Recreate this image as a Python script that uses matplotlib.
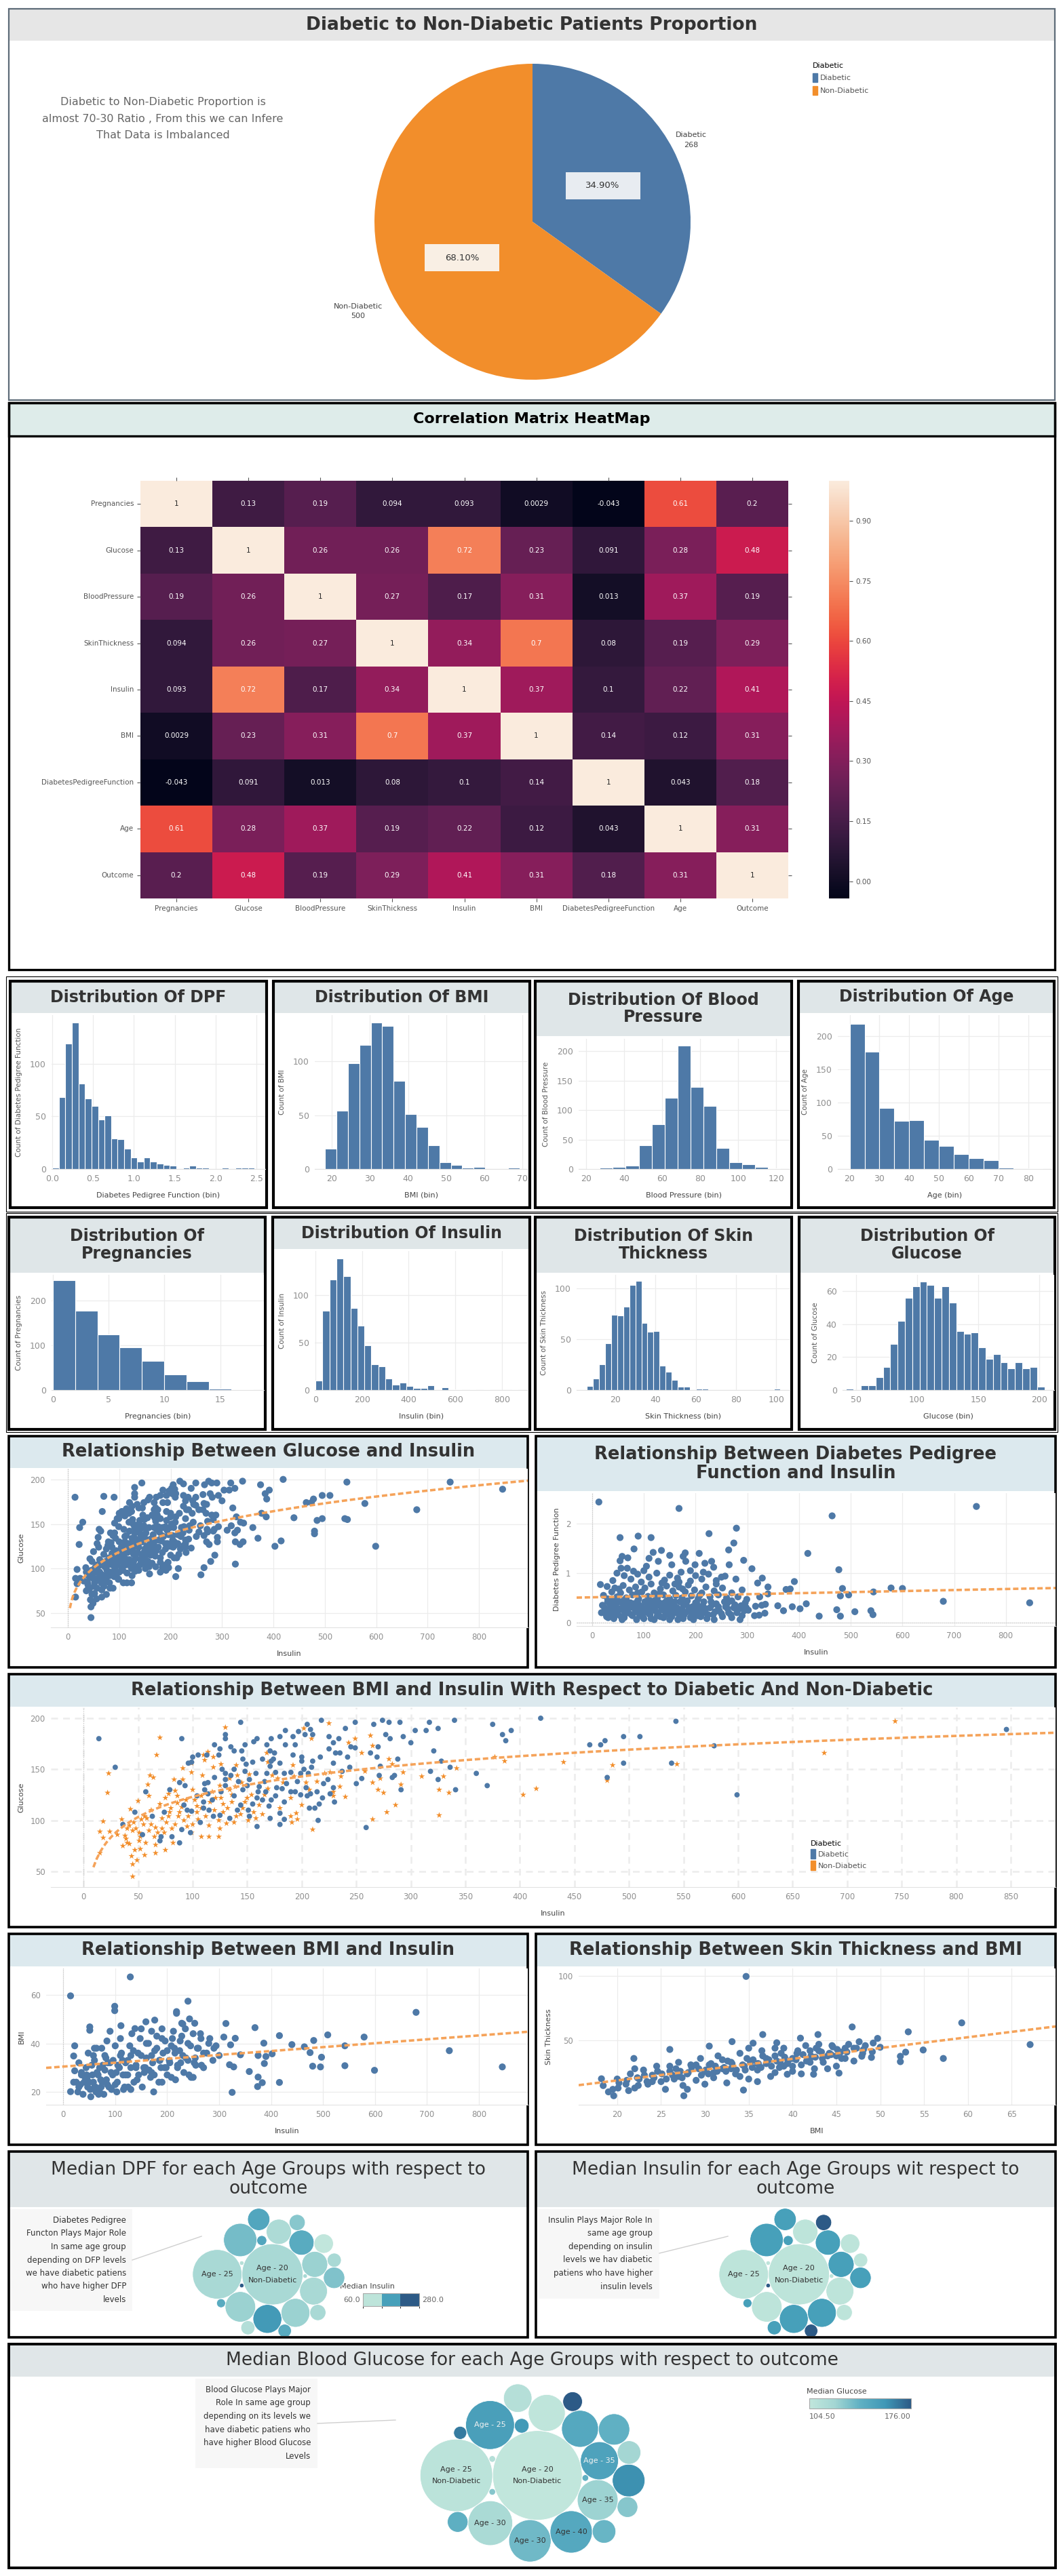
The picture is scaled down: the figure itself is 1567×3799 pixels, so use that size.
import numpy as np
import pandas as pd
import matplotlib
matplotlib.use('Agg')
import matplotlib.pyplot as plt
import seaborn as sns
from matplotlib.patches import Rectangle, Circle, Patch
from matplotlib.colors import LinearSegmentedColormap, ListedColormap, BoundaryNorm, Normalize
from matplotlib.cm import ScalarMappable
from matplotlib.ticker import FormatStrFormatter

# ---------------- data ----------------
outcome_labels = ['Diabetic', 'Non-Diabetic']
outcome_counts = [268, 500]
outcome_pct_text = ['34.90%', '68.10%']
pie_note = ('Diabetic to Non-Diabetic Proportion is\n'
            'almost 70-30 Ratio , From this we can Infere\n'
            'That Data is Imbalanced')

corr_cols = ['Pregnancies', 'Glucose', 'BloodPressure', 'SkinThickness', 'Insulin',
             'BMI', 'DiabetesPedigreeFunction', 'Age', 'Outcome']
corr_vals = [
    [1, 0.13, 0.19, 0.094, 0.093, 0.0029, -0.043, 0.61, 0.2],
    [0.13, 1, 0.26, 0.26, 0.72, 0.23, 0.091, 0.28, 0.48],
    [0.19, 0.26, 1, 0.27, 0.17, 0.31, 0.013, 0.37, 0.19],
    [0.094, 0.26, 0.27, 1, 0.34, 0.7, 0.08, 0.19, 0.29],
    [0.093, 0.72, 0.17, 0.34, 1, 0.37, 0.1, 0.22, 0.41],
    [0.0029, 0.23, 0.31, 0.7, 0.37, 1, 0.14, 0.12, 0.31],
    [-0.043, 0.091, 0.013, 0.08, 0.1, 0.14, 1, 0.043, 0.18],
    [0.61, 0.28, 0.37, 0.19, 0.22, 0.12, 0.043, 1, 0.31],
    [0.2, 0.48, 0.19, 0.29, 0.41, 0.31, 0.18, 0.31, 1],
]

# histogram bins: first edge, bin width, counts per bin
dpf_bin_start, dpf_bin_width = 0.0, 0.08
dpf_counts = [1, 68, 119, 139, 81, 67, 60, 47, 51, 29, 28, 19, 11, 7, 11, 7, 5, 4, 3, 0,
              1, 3, 1, 1, 0, 0, 1, 0, 1, 1, 1]
bmi_bin_start, bmi_bin_width = 18.2, 3.0
bmi_counts = [19, 54, 98, 115, 136, 133, 82, 51, 39, 22, 6, 4, 1, 2, 0, 0, 1]
bp_bin_start, bp_bin_width = 20.4, 6.8
bp_counts = [1, 2, 3, 6, 40, 76, 121, 210, 139, 107, 36, 12, 8, 3, 1]
age_bin_start, age_bin_width = 20, 5
age_counts = [219, 177, 92, 73, 74, 44, 35, 22, 16, 13, 2, 0, 1]
preg_bin_start, preg_bin_width = 0, 2
preg_counts = [246, 178, 125, 95, 66, 35, 19, 3, 1]
ins_bin_start, ins_bin_width = 0, 30
ins_counts = [10, 83, 116, 138, 120, 86, 68, 47, 27, 25, 12, 6, 8, 4, 2, 2, 5, 0, 3, 1,
              1, 0, 1, 0, 1, 0, 0, 0, 1]
skin_bin_start, skin_bin_width = 6, 3
skin_counts = [4, 11, 25, 46, 74, 73, 82, 103, 107, 66, 57, 58, 24, 18, 10, 3, 3, 0, 1, 1,
               0, 0, 0, 0, 0, 0, 0, 0, 0, 0, 0, 1]
glu_bin_start, glu_bin_width = 42, 6
glu_counts = [1, 0, 3, 3, 8, 14, 28, 42, 56, 63, 66, 64, 56, 63, 53, 36, 34, 35, 26, 19,
              22, 17, 13, 17, 13, 14, 2]

# (insulin, glucose) pairs by outcome
ig_diabetic = [
    (14, 180), (29, 152), (90, 180), (144, 196), (130, 184), (130, 180), (120, 174), (125, 170), (124, 164), (135, 172),
    (138, 168), (145, 168), (148, 174), (156, 177), (159, 180), (168, 174), (172, 180), (180, 182), (185, 188), (192, 182),
    (194, 174), (185, 174), (171, 168), (175, 166), (174, 160), (171, 153), (172, 158), (155, 157), (149, 155), (148, 148),
    (127, 150), (130, 146), (135, 144), (142, 138), (130, 140), (130, 134), (111, 136), (114, 137), (111, 130), (114, 126),
    (92, 115), (99, 109), (95, 110), (107, 98), (110, 112), (115, 110), (119, 104), (125, 105), (134, 102), (141, 110),
    (144, 115), (151, 110), (152, 104), (155, 116), (159, 94), (159, 122), (160, 128), (161, 133), (166, 138), (167, 128),
    (170, 114), (172, 120), (171, 102), (180, 107), (180, 96), (184, 101), (184, 118), (182, 131), (177, 132), (176, 147),
    (184, 146), (190, 128), (194, 128), (190, 147), (199, 146), (199, 125), (205, 124), (208, 126), (207, 112), (212, 112),
    (216, 116), (215, 100), (220, 136), (219, 122), (209, 152), (210, 158), (200, 162), (200, 158), (206, 146), (217, 162),
    (225, 170), (225, 182), (229, 156), (229, 176), (231, 166), (235, 166), (234, 180), (240, 190), (242, 162), (244, 152),
    (237, 148), (245, 172), (249, 171), (249, 196), (218, 198), (205, 194), (208, 189), (210, 184), (203, 184), (197, 187),
    (229, 132), (230, 118), (250, 136), (255, 141), (259, 93), (263, 166), (266, 194), (270, 172), (269, 162), (272, 153),
    (271, 144), (274, 198), (277, 184), (281, 180), (280, 196), (290, 196), (293, 182), (288, 160), (283, 142), (285, 144),
    (291, 130), (300, 176), (304, 188), (314, 188), (317, 196), (325, 190), (321, 168), (328, 158), (318, 148), (325, 140),
    (336, 152), (340, 198), (341, 130), (360, 146), (370, 134), (375, 194), (384, 184), (387, 178), (392, 188), (419, 200),
    (88, 78), (90, 91), (98, 88), (81, 84), (70, 80), (71, 84), (63, 104), (74, 108), (79, 130), (57, 128),
    (47, 108), (36, 96), (54, 86), (88, 137), (93, 134), (96, 156), (100, 162), (105, 164), (113, 164), (99, 157),
    (118, 120), (126, 128), (138, 124), (146, 130), (152, 140), (158, 146), (164, 120), (176, 124), (186, 136), (196, 138),
    (204, 132), (214, 128), (224, 140), (226, 126), (138, 150), (146, 160), (164, 160), (180, 156), (192, 164), (120, 142),
    (104, 124), (110, 118), (150, 134), (168, 146), (202, 150),
    (464, 174), (474, 174), (478, 178), (495, 182), (510, 182), (495, 156), (539, 156), (480, 142), (543, 197), (846, 189),
    (599, 125), (578, 173)]
ig_nondiabetic = [
    (18, 99), (15, 89), (18, 83), (15, 68), (22, 127), (23, 146), (24, 89), (35, 101), (31, 86), (43, 111),
    (45, 90), (45, 57), (45, 45), (44, 65), (47, 71), (49, 61), (36, 75), (39, 82), (42, 77), (51, 80),
    (51, 88), (55, 96), (56, 104), (50, 119), (60, 124), (61, 144), (64, 142), (59, 135), (67, 164), (70, 181),
    (66, 93), (65, 84), (75, 71), (66, 68), (72, 102), (75, 122), (78, 126), (83, 140), (84, 129), (91, 140),
    (91, 151), (99, 147), (99, 156), (79, 108), (87, 104), (95, 94), (99, 88), (81, 92), (60, 90), (53, 101),
    (40, 92), (90, 113), (86, 117), (102, 120), (105, 101), (108, 84), (115, 84), (124, 84), (125, 92), (115, 95),
    (104, 114), (108, 124), (109, 144), (111, 159), (110, 164), (114, 167), (119, 162), (119, 152), (126, 155), (130, 191),
    (140, 154), (141, 144), (134, 141), (125, 134), (121, 122), (128, 116), (136, 125), (139, 133), (145, 137), (152, 145),
    (154, 125), (148, 118), (144, 106), (138, 98), (131, 97), (151, 100), (158, 102), (164, 106), (161, 115), (166, 125),
    (169, 131), (168, 166), (169, 157), (173, 144), (178, 141), (180, 112), (183, 137), (192, 154), (193, 143), (190, 122),
    (190, 104), (191, 98), (195, 107), (196, 101), (200, 115), (202, 190), (209, 180), (204, 137), (207, 130), (210, 91),
    (214, 138), (221, 146), (226, 147), (225, 195), (229, 124), (229, 128), (235, 133), (240, 123), (236, 143), (243, 176),
    (249, 180), (255, 166), (258, 148), (263, 183), (265, 173), (265, 137), (265, 101), (270, 130), (275, 127), (278, 108),
    (286, 115), (272, 141), (280, 160), (283, 155), (291, 135), (293, 147), (310, 143), (326, 130), (326, 105), (330, 143),
    (335, 127), (342, 151), (377, 162), (386, 158), (403, 125), (415, 131),
    (38, 85), (42, 95), (48, 92), (52, 84), (57, 78), (62, 96), (68, 88), (72, 92), (76, 98), (80, 112),
    (84, 96), (88, 108), (92, 100), (96, 104), (100, 96), (104, 108), (108, 112), (112, 104), (116, 118), (120, 110),
    (124, 100), (128, 108), (132, 112), (136, 118), (140, 104), (146, 112), (150, 122), (156, 108), (62, 110), (70, 116),
    (78, 104), (86, 124), (94, 120), (46, 98), (58, 102), (66, 76), (74, 88), (82, 78), (100, 130), (118, 128),
    (126, 122), (134, 130), (52, 72), (40, 78), (56, 66),
    (544, 155), (480, 139), (485, 154), (440, 157), (744, 197), (679, 166)]

# (insulin, diabetes pedigree function)
insulin_dpf = [
    (13, 2.44), (168, 2.31), (464, 2.16), (743, 2.35), (279, 1.91), (226, 1.80), (54, 1.72), (89, 1.75), (114, 1.72), (274, 1.61),
    (264, 1.47), (81, 1.49), (417, 1.40), (118, 1.42), (134, 1.46), (150, 1.36), (176, 1.34), (180, 1.41), (207, 1.40), (293, 1.26),
    (54, 1.25), (58, 1.34), (69, 1.31), (265, 1.17), (231, 1.24), (218, 1.20), (199, 1.17), (181, 1.24), (154, 1.17), (128, 1.24),
    (110, 1.30), (309, 1.09), (477, 1.07), (235, 1.12), (56, 1.10), (68, 1.10), (105, 1.14), (329, 0.90), (320, 0.80), (391, 0.83),
    (340, 0.72), (278, 0.88), (257, 0.94), (16, 0.77), (29, 0.73), (375, 0.67), (383, 0.68), (484, 0.69), (578, 0.70), (600, 0.69),
    (480, 0.54), (496, 0.56), (544, 0.62), (679, 0.43), (846, 0.40), (324, 0.52), (340, 0.58), (299, 0.47), (359, 0.34), (370, 0.24),
    (387, 0.32), (402, 0.28), (414, 0.38), (316, 0.33), (328, 0.35), (335, 0.37), (302, 0.25), (314, 0.14), (323, 0.15), (334, 0.19),
    (439, 0.13), (473, 0.26), (480, 0.13), (508, 0.22), (539, 0.24), (543, 0.16), (31, 0.10),
    (40, 0.85), (62, 0.95), (75, 0.88), (88, 0.98), (95, 0.82), (110, 0.92), (125, 1.0), (140, 0.86), (150, 0.96), (165, 0.9),
    (172, 1.02), (190, 0.84), (200, 0.95), (212, 0.88), (225, 0.98), (240, 0.85), (250, 0.92), (168, 0.82), (135, 0.8), (100, 1.05),
    (80, 1.04), (190, 1.05), (215, 1.02), (48, 1.0),
    (22, 0.55), (30, 0.48), (38, 0.62), (44, 0.7), (48, 0.52), (55, 0.6), (60, 0.75), (66, 0.5), (72, 0.66), (78, 0.56),
    (84, 0.72), (90, 0.48), (96, 0.62), (102, 0.7), (108, 0.53), (114, 0.78), (120, 0.6), (126, 0.5), (132, 0.68), (138, 0.56),
    (144, 0.74), (150, 0.48), (156, 0.64), (162, 0.55), (168, 0.72), (174, 0.5), (180, 0.62), (186, 0.76), (192, 0.54), (198, 0.66),
    (205, 0.48), (212, 0.6), (220, 0.72), (228, 0.52), (236, 0.64), (244, 0.56), (252, 0.7), (260, 0.5), (270, 0.6), (282, 0.52),
    (290, 0.66), (62, 0.46), (110, 0.46), (160, 0.78), (240, 0.78), (52, 0.68), (88, 0.6), (130, 0.58), (175, 0.68), (208, 0.55),
    (18, 0.2), (24, 0.3), (28, 0.12), (34, 0.38), (38, 0.22), (42, 0.08), (46, 0.3), (50, 0.16), (54, 0.42), (58, 0.26),
    (62, 0.1), (66, 0.34), (70, 0.2), (74, 0.4), (78, 0.14), (82, 0.28), (86, 0.06), (90, 0.36), (94, 0.22), (98, 0.12),
    (102, 0.42), (106, 0.3), (110, 0.18), (114, 0.08), (118, 0.36), (122, 0.24), (126, 0.14), (130, 0.4), (134, 0.3), (138, 0.1),
    (142, 0.2), (146, 0.38), (150, 0.26), (154, 0.12), (158, 0.34), (162, 0.2), (166, 0.06), (170, 0.42), (174, 0.28), (178, 0.16),
    (182, 0.36), (186, 0.24), (190, 0.1), (194, 0.32), (198, 0.18), (202, 0.4), (206, 0.26), (210, 0.12), (214, 0.34), (218, 0.2),
    (222, 0.08), (228, 0.3), (234, 0.16), (240, 0.38), (246, 0.24), (252, 0.12), (258, 0.32), (264, 0.2), (270, 0.1), (276, 0.36),
    (282, 0.26), (290, 0.14), (296, 0.4), (40, 0.44), (64, 0.18), (92, 0.3), (120, 0.06), (144, 0.44), (176, 0.08), (200, 0.3),
    (230, 0.42), (262, 0.4), (286, 0.06),
    (20, 0.35), (26, 0.18), (32, 0.26), (36, 0.14), (40, 0.32), (44, 0.2), (48, 0.4), (52, 0.28), (56, 0.12), (60, 0.36),
    (64, 0.24), (68, 0.42), (72, 0.3), (76, 0.16), (80, 0.38), (84, 0.22), (88, 0.44), (92, 0.14), (96, 0.32), (100, 0.2),
    (104, 0.26), (108, 0.38), (112, 0.16), (116, 0.28), (120, 0.44), (124, 0.34), (128, 0.2), (132, 0.12), (136, 0.26), (140, 0.4),
    (144, 0.3), (148, 0.16), (152, 0.36), (156, 0.22), (160, 0.42), (164, 0.3), (168, 0.16), (172, 0.24), (176, 0.38), (180, 0.2),
    (184, 0.44), (188, 0.3), (192, 0.16), (196, 0.26), (200, 0.4), (204, 0.14), (208, 0.32), (212, 0.22), (216, 0.42), (220, 0.28),
    (224, 0.16), (232, 0.36), (238, 0.22), (244, 0.32), (250, 0.18), (256, 0.42), (262, 0.28), (268, 0.16), (274, 0.3), (280, 0.2),
    (288, 0.34), (294, 0.24), (30, 0.42), (58, 0.06), (100, 0.08), (150, 0.06), (196, 0.06), (236, 0.06), (270, 0.44), (298, 0.3)]

# (insulin, BMI)
insulin_bmi = [
    (129, 67.4), (14, 59.6), (240, 57.4), (99, 55.3), (99, 53.5), (218, 53.1), (218, 52.4), (679, 52.8), (159, 48.9), (176, 49.6),
    (243, 50.1), (228, 48.3), (253, 48.3), (313, 48.2), (369, 46.5), (51, 46.8), (51, 45.4), (111, 47.3), (138, 46.1), (416, 43.2),
    (509, 43.5), (579, 42.6), (309, 42.6), (331, 42.1), (482, 41.2), (386, 40.1), (440, 39.5), (464, 38.6), (542, 39.0), (22, 39.0),
    (322, 39.4), (341, 35.3), (402, 35.7), (475, 36.2), (497, 34.3), (743, 37.0), (390, 34.6), (375, 35.0), (387, 31.7), (320, 31.2),
    (328, 30.3), (480, 30.6), (495, 30.3), (542, 30.8), (599, 28.9), (845, 30.3), (358, 28.4), (375, 26.1), (374, 22.2), (383, 23.8),
    (416, 23.9), (325, 19.8), (14, 20.1), (22, 28.7), (20, 34.8),
    (40, 24), (44, 30), (48, 36), (52, 21), (56, 27), (60, 33), (64, 38), (68, 19), (72, 25), (76, 31),
    (80, 35), (84, 41), (88, 22), (92, 28), (96, 33), (100, 39), (104, 24), (108, 30), (112, 36), (116, 21),
    (120, 27), (124, 33), (128, 39), (132, 44), (136, 24), (140, 30), (144, 36), (148, 42), (152, 22), (156, 28),
    (160, 34), (164, 40), (168, 26), (172, 32), (176, 37), (180, 43), (184, 24), (188, 30), (192, 36), (196, 41),
    (200, 27), (204, 33), (208, 39), (212, 45), (216, 25), (220, 31), (224, 37), (228, 43), (232, 28), (236, 34),
    (240, 40), (246, 26), (252, 32), (258, 38), (264, 44), (270, 30), (276, 36), (282, 42), (288, 33), (294, 39),
    (300, 35), (58, 35), (86, 32), (114, 33), (142, 25), (170, 28), (198, 30), (226, 32), (254, 34), (46, 26),
    (74, 38), (102, 28), (130, 35), (158, 30), (186, 33), (214, 38), (242, 27), (266, 31), (30, 32), (35, 27),
    (90, 45), (150, 46), (190, 46), (62, 22), (118, 22), (174, 20), (124, 27), (82, 34), (208, 26),
    (45, 27), (50, 24), (55, 31), (60, 22), (65, 28), (70, 30), (75, 24), (80, 29), (85, 23), (90, 32),
    (95, 27), (100, 23), (105, 31), (110, 35), (115, 27), (120, 32), (125, 22), (130, 30), (135, 37), (140, 31),
    (145, 27), (150, 35), (155, 30), (160, 40), (165, 29), (170, 35), (175, 27), (180, 38), (185, 33), (190, 42),
    (195, 30), (200, 37), (205, 32), (210, 42), (215, 36), (220, 30), (225, 41), (230, 35), (235, 46), (240, 33),
    (245, 39), (250, 44), (255, 31), (260, 38), (265, 42), (270, 36), (280, 40), (290, 38), (30, 22), (35, 28),
    (25, 24), (60, 38), (110, 42), (170, 45), (230, 48), (70, 20), (130, 21), (190, 24), (250, 26),
    (20, 24), (28, 20), (33, 23), (38, 19), (42, 26), (47, 22), (53, 18), (58, 24), (63, 20), (67, 27),
    (73, 22), (78, 19), (83, 25), (93, 21), (103, 20)]

# (BMI, skin thickness)
bmi_skin = [
    (34.7, 99.8), (59.3, 63.7), (46.8, 60.5), (53.2, 56.7), (49.7, 51.6), (42.9, 54.6), (36.6, 54.6), (67.1, 46.8), (54.9, 42.6), (52.9, 40.9),
    (57.2, 36.0), (52.3, 37.7), (52.3, 33.5), (50.0, 44.7), (49.1, 41.2), (47.9, 37.7), (49.0, 36.8), (45.3, 24.6), (42.4, 23.7), (39.4, 23.7),
    (34.4, 11.4), (27.6, 7.0), (19.6, 7.0), (18.2, 20.2), (18.4, 14.9), (21.9, 36.0), (26.0, 43.0), (30.5, 45.6), (33.1, 49.1), (35.5, 47.9),
    (38.2, 48.2), (40.9, 51.8),
    (19.5, 12), (20, 20), (21, 16), (21.5, 24), (22, 13), (22.5, 20), (23, 27), (23.5, 16), (24, 23), (24.5, 30),
    (25, 18), (25.5, 12), (26, 26), (26.5, 20), (27, 33), (27.5, 15), (28, 24), (28.5, 29), (29, 19), (29.5, 36),
    (30, 26), (30.5, 31), (31, 21), (31.5, 38), (32, 28), (32.5, 17), (33, 33), (33.5, 24), (34, 40), (34.5, 30),
    (35, 20), (35.5, 35), (36, 27), (36.5, 42), (37, 32), (37.5, 22), (38, 38), (38.5, 29), (39, 44), (39.5, 34),
    (40, 26), (40.5, 40), (41, 31), (41.5, 46), (42, 36), (42.5, 28), (43, 42), (43.5, 33), (44, 38), (44.5, 46),
    (45, 30), (45.5, 41), (46, 36), (47, 44), (28, 12), (30, 16), (32, 35), (34, 22), (36, 18), (38, 25),
    (40, 36), (42, 42), (44, 28), (26, 30), (24, 18), (22, 28), (33, 28), (35, 44), (37, 36), (39, 30),
    (41, 24), (43, 47), (31, 25), (29, 31), (27, 22), (36, 32), (38, 44), (40, 30), (42, 33), (45, 38),
    (47, 34), (46, 44), (48, 40),
    (20.2, 17), (21.1, 19), (22.3, 21), (23.1, 23), (24.2, 21), (25.1, 24), (26.3, 23), (27.2, 26), (28.1, 25), (29.3, 28),
    (30.1, 27), (31.2, 30), (32.2, 29), (33.1, 32), (34.3, 31), (35.2, 33), (36.1, 32), (37.3, 35), (38.2, 34), (39.1, 37),
    (40.3, 36), (41.2, 39), (42.1, 38), (43.3, 41), (44.2, 40), (45.1, 43), (46.2, 41), (47.3, 44), (48.1, 43), (24.6, 26),
    (26.7, 28), (28.4, 31), (30.7, 32), (32.6, 34), (34.8, 36), (36.6, 38), (38.7, 40), (40.6, 42), (42.7, 44), (44.6, 45),
    (23.4, 18), (25.6, 20), (27.4, 21), (29.6, 23), (31.4, 26), (33.6, 27), (35.4, 29), (37.6, 30), (39.4, 32), (41.6, 34),
    (43.4, 36), (45.6, 36), (30.4, 24), (32.4, 26), (34.6, 27), (36.4, 29), (38.6, 33), (40.4, 35), (42.6, 37), (44.4, 39),
    (19.0, 10), (20.1, 13), (21.3, 11), (22.4, 15), (46.4, 47), (47.6, 49), (48.3, 46), (49.2, 48)]

# packed bubbles: one bubble per age group and outcome
bubble_age = [20, 25, 25, 30, 30, 40, 35, 35, 20, 40, 50, 45, 45, 55, 60, 50, 65, 55, 60, 65, 70, 80, 70]
bubble_outcome = ['Non-Diabetic', 'Non-Diabetic', 'Diabetic', 'Non-Diabetic', 'Diabetic', 'Diabetic',
                  'Non-Diabetic', 'Diabetic', 'Diabetic', 'Non-Diabetic', 'Diabetic', 'Diabetic',
                  'Non-Diabetic', 'Non-Diabetic', 'Non-Diabetic', 'Non-Diabetic', 'Non-Diabetic',
                  'Diabetic', 'Diabetic', 'Diabetic', 'Non-Diabetic', 'Non-Diabetic', 'Diabetic']
bubble_count = [189, 124, 56, 47, 42, 42, 39, 34, 32, 32, 25, 23, 19, 13, 13, 10, 10, 9, 5, 4, 1, 1, 1]
median_glucose = [104.5, 108, 152, 118, 136, 146, 124, 150, 146, 106, 160, 140, 112, 122, 138, 130, 141,
                  176, 156, 166, 140, 112, 130]
median_dpf = [0.35, 0.35, 0.46, 0.39, 0.61, 0.39, 0.35, 0.39, 0.525, 0.335, 0.55, 0.44, 0.25, 0.35, 0.425,
              0.31, 0.35, 0.525, 0.55, 0.525, 0.35, 0.30, 0.75]
median_insulin = [100, 95, 170, 110, 160, 175, 120, 180, 165, 105, 190, 170, 115, 100, 230, 150, 120,
                  240, 185, 175, 90, 60, 280]

dpf_note = ('Diabetes Pedigree\nFuncton Plays Major Role\nIn same age group\ndepending on DFP levels\n'
            'we have diabetic patiens\nwho have higher DFP\nlevels')
ins_note = ('Insulin Plays Major Role In\nsame age group\ndepending on insulin\nlevels we hav diabetic\n'
            'patiens who have higher\ninsulin levels')
glu_note = ('Blood Glucose Plays Major\nRole In same age group\ndepending on its levels we\n'
            'have diabetic patiens who\nhave higher Blood Glucose\nLevels')

# ---------------- layout helpers ----------------
W, H = 1567, 3799
BLUE, ORANGE, TREND = '#4e79a7', '#f28e2b', '#f5a35a'
TXT = '#333333'

fig = plt.figure(figsize=(W / 100, H / 100), dpi=100)
bg = fig.add_axes([0, 0, 1, 1])
bg.set_xlim(0, W)
bg.set_ylim(H, 0)
bg.axis('off')


def px_axes(x0, y0, x1, y1):
    return fig.add_axes([x0 / W, 1 - y1 / H, (x1 - x0) / W, (y1 - y0) / H])


def panel(x0, y0, x1, y1, band_bottom, band_color, title, fs, weight='bold',
          edge='black', lw=2.2, tcolor=TXT):
    bg.add_patch(Rectangle((x0, y0), x1 - x0, band_bottom - y0, fc=band_color, ec='none'))
    bg.add_patch(Rectangle((x0, y0), x1 - x0, y1 - y0, fill=False, ec=edge, lw=lw))
    bg.text((x0 + x1) / 2, (y0 + band_bottom) / 2, title, ha='center', va='center',
            fontsize=fs, weight=weight, color=tcolor, linespacing=1.1)


def tab_style(ax, xlim, ylim, xticks, yticks, xlabel, ylabel, grid_ls='-', grid_lw=0.9):
    ax.set_xlim(xlim)
    ax.set_ylim(ylim)
    ax.set_xticks(xticks)
    ax.set_yticks(yticks)
    ax.grid(True, color='#ececec', lw=grid_lw, ls=grid_ls)
    ax.set_axisbelow(True)
    for s in ax.spines.values():
        s.set_visible(False)
    ax.spines['bottom'].set_visible(True)
    ax.spines['bottom'].set_color('#e2e2e2')
    ax.tick_params(length=0, labelsize=8.5, colors='#8f8f8f', pad=6)
    ax.set_xlabel(xlabel, fontsize=8, color='#444444', labelpad=9)
    ax.set_ylabel(ylabel, fontsize=8, color='#444444', labelpad=6)


# ---------------- pie ----------------
panel(13, 13, 1555, 590, 60, '#e6e6e6', 'Diabetic to Non-Diabetic Patients Proportion', 19,
      edge='#5d6b78', lw=1.6)
bg.text(240, 175, pie_note, ha='center', va='center', fontsize=11.5, color='#666666', linespacing=1.75)

pax = px_axes(552, 94, 1018, 560)
wedges, _ = pax.pie(outcome_counts, colors=[BLUE, ORANGE], startangle=90, counterclock=False,
                    wedgeprops=dict(linewidth=0))
pax.set_xlim(-1, 1)
pax.set_ylim(-1, 1)
pax.set_aspect('equal')
for w, name, n, pct, box_c, dist in zip(wedges, outcome_labels, outcome_counts, outcome_pct_text,
                                         ['#e8ecf1', '#f9efe4'], [1.13, 1.24]):
    ang = np.deg2rad((w.theta1 + w.theta2) / 2)
    cx, cy = 0.5 * np.cos(ang), 0.5 * np.sin(ang)
    pax.add_patch(Rectangle((cx - 0.236, cy - 0.085), 0.472, 0.17, fc=box_c, ec='none'))
    pax.text(cx, cy, pct, ha='center', va='center', fontsize=9.5, color=TXT)
    pax.text(dist * np.cos(ang), dist * np.sin(ang), f'{name}\n{n}', ha='center', va='center',
             fontsize=8, color='#444444', linespacing=1.6)
pax.legend(handles=[Patch(color=BLUE, label=outcome_labels[0]), Patch(color=ORANGE, label=outcome_labels[1])],
           title='Diabetic', loc='upper left', bbox_to_anchor=(1188 / W, 1 - 82 / H),
           bbox_transform=fig.transFigure, frameon=False, fontsize=8, title_fontsize=8,
           handlelength=0.6, handleheight=1.5, handletextpad=0.4, labelspacing=0.5,
           alignment='left', labelcolor='#555555')

# ---------------- heatmap ----------------
panel(13, 594, 1555, 1430, 643, '#deecea', 'Correlation Matrix HeatMap', 16, tcolor='black', lw=2.4)
bg.add_patch(Rectangle((13, 594), 1542, 49, fill=False, ec='black', lw=2.4))
hm_ax = px_axes(207, 709, 1162, 1325)
cb_ax = px_axes(1222, 709, 1252, 1325)
corr = pd.DataFrame(corr_vals, index=corr_cols, columns=corr_cols)
sns.heatmap(corr, annot=True, ax=hm_ax, cbar_ax=cb_ax, annot_kws={'size': 7.5})
hm_ax.tick_params(labelsize=7.5, colors='#555555', top=True, right=True)
plt.setp(hm_ax.get_xticklabels(), rotation=0)
plt.setp(hm_ax.get_yticklabels(), rotation=0)
cb_ticks = np.arange(0, 0.91, 0.15)
cb_ax.set_yticks(cb_ticks)
cb_ax.set_yticklabels([f'{t:.2f}' for t in cb_ticks])
cb_ax.tick_params(labelsize=7.5, colors='#555555')

# ---------------- distributions ----------------
bg.add_patch(Rectangle((9, 1440), 1550, 347, fill=False, ec='black', lw=0.8))
bg.add_patch(Rectangle((9, 1789), 1550, 323, fill=False, ec='black', lw=0.8))
HIST_BAND = '#dfe6e8'


def hist_panel(box, band_bottom, title, rect, start, width, counts, xlim, ylim, xticks, yticks,
               xlabel, ylabel, xfmt=None):
    panel(*box, band_bottom, HIST_BAND, title, 17, lw=3)
    ax = px_axes(*rect)
    edges = start + width * np.arange(len(counts))
    ax.bar(edges, counts, width=width, align='edge', color=BLUE, edgecolor='white', linewidth=0.8)
    tab_style(ax, xlim, ylim, xticks, yticks, xlabel, ylabel)
    ax.tick_params(labelsize=9)
    ax.set_ylabel(ylabel, fontsize=7.5, color='#555555', labelpad=8)
    if xfmt:
        ax.xaxis.set_major_formatter(FormatStrFormatter(xfmt))
    return ax


hist_panel((15, 1447, 393, 1781), 1494, 'Distribution Of DPF', (76, 1497, 391, 1724),
           dpf_bin_start, dpf_bin_width, dpf_counts, (-0.01, 2.61), (0, 146),
           np.arange(0, 2.51, 0.5), [0, 50, 100], 'Diabetes Pedigree Function (bin)',
           'Count of Diabetes Pedigree Function', '%.1f')
hist_panel((403, 1447, 781, 1781), 1494, 'Distribution Of BMI', (464, 1497, 778, 1724),
           bmi_bin_start, bmi_bin_width, bmi_counts, (15.5, 71.4), (0, 143),
           np.arange(20, 71, 10), [0, 50, 100], 'BMI (bin)', 'Count of BMI')
hist_panel((789, 1447, 1167, 1781), 1528, 'Distribution Of Blood\nPressure', (853, 1532, 1164, 1724),
           bp_bin_start, bp_bin_width, bp_counts, (16, 127), (0, 221),
           np.arange(20, 121, 20), [0, 50, 100, 150, 200], 'Blood Pressure (bin)', 'Count of Blood Pressure')
hist_panel((1177, 1447, 1554, 1781), 1494, 'Distribution Of Age', (1235, 1497, 1551, 1724),
           age_bin_start, age_bin_width, age_counts, (16, 88), (0, 232),
           np.arange(20, 81, 10), [0, 50, 100, 150, 200], 'Age (bin)', 'Count of Age')
hist_panel((13, 1795, 391, 2108), 1877, 'Distribution Of\nPregnancies', (76, 1880, 389, 2050),
           preg_bin_start, preg_bin_width, preg_counts, (-0.1, 18.9), (0, 258),
           [0, 5, 10, 15], [0, 100, 200], 'Pregnancies (bin)', 'Count of Pregnancies')
hist_panel((402, 1795, 781, 2108), 1842, 'Distribution Of Insulin', (464, 1845, 778, 2050),
           ins_bin_start, ins_bin_width, ins_counts, (-3, 911), (0, 146),
           np.arange(0, 801, 200), [0, 50, 100], 'Insulin (bin)', 'Count of Insulin')
hist_panel((789, 1795, 1167, 2108), 1877, 'Distribution Of Skin\nThickness', (850, 1880, 1164, 2050),
           skin_bin_start, skin_bin_width, skin_counts, (0.8, 106.6), (0, 113),
           np.arange(20, 101, 20), [0, 50, 100], 'Skin Thickness (bin)', 'Count of Skin Thickness')
hist_panel((1178, 1795, 1555, 2108), 1877, 'Distribution Of\nGlucose', (1242, 1880, 1554, 2050),
           glu_bin_start, glu_bin_width, glu_counts, (39, 212), (0, 70),
           np.arange(50, 201, 50), [0, 20, 40, 60], 'Glucose (bin)', 'Count of Glucose')

# ---------------- relationships ----------------
REL_BAND = '#dce9ee'
dia = np.array(ig_diabetic, dtype=float)
non = np.array(ig_nondiabetic, dtype=float)
ig_all = np.vstack([dia, non])

# glucose vs insulin, power trend
panel(13, 2118, 778, 2459, 2165, REL_BAND, 'Relationship Between Glucose and Insulin', 18.5, lw=2.6)
ax1 = px_axes(75, 2166, 778, 2400)
ax1.scatter(ig_all[:, 0], ig_all[:, 1], s=54, color=BLUE, edgecolor='none', zorder=3)
p_b, p_a = np.polyfit(np.log(ig_all[:, 0]), np.log(ig_all[:, 1]), 1)
xs = np.linspace(4, 895, 300)
ax1.plot(xs, np.exp(p_a) * xs ** p_b, color=TREND, lw=2.6, ls=(0, (2.2, 1.1)), zorder=4)
ax1.axvline(0, color='#bbbbbb', lw=0.8, ls=':')
tab_style(ax1, (-33, 895), (34, 212), np.arange(0, 801, 100), [50, 100, 150, 200], 'Insulin', 'Glucose')

# DPF vs insulin, linear trend
ins_dpf = np.array(insulin_dpf, dtype=float)
panel(790, 2118, 1556, 2459, 2199, REL_BAND, 'Relationship Between Diabetes Pedigree\nFunction and Insulin',
      18.5, lw=2.6)
ax2 = px_axes(850, 2202, 1556, 2398)
ax2.scatter(ins_dpf[:, 0], ins_dpf[:, 1], s=54, color=BLUE, edgecolor='none', zorder=3)
k2, c2 = np.polyfit(ins_dpf[:, 0], ins_dpf[:, 1], 1)
xs = np.linspace(-30, 896, 50)
ax2.plot(xs, k2 * xs + c2, color=TREND, lw=2.6, ls=(0, (2.2, 1.1)), zorder=4)
ax2.axvline(0, color='#bbbbbb', lw=0.8, ls=':')
ax2.axhline(0, color='#bbbbbb', lw=0.8, ls=':')
tab_style(ax2, (-30, 896), (-0.07, 2.62), np.arange(0, 801, 100), [0, 1, 2], 'Insulin',
          'Diabetes Pedigree Function')

# glucose vs insulin by outcome, log trend
panel(13, 2469, 1556, 2842, 2517, REL_BAND,
      'Relationship Between BMI and Insulin With Respect to Diabetic And Non-Diabetic', 18.5, lw=2.6)
ax3 = px_axes(75, 2518, 1556, 2783)
ax3.scatter(non[:, 0], non[:, 1], s=46, marker='*', color=ORANGE, edgecolor='none', zorder=3)
ax3.scatter(dia[:, 0], dia[:, 1], s=32, color=BLUE, edgecolor='none', zorder=3)
l_a, l_b = np.polyfit(np.log(ig_all[:, 0]), ig_all[:, 1], 1)
xs = np.linspace(9, 891, 300)
ax3.plot(xs, l_a * np.log(xs) + l_b, color=TREND, lw=2.6, ls=(0, (2.2, 1.1)), zorder=4)
ax3.axvline(0, color='#bbbbbb', lw=0.8, ls=':')
tab_style(ax3, (-30, 891), (34.7, 210.6), np.arange(0, 851, 50), [50, 100, 150, 200], 'Insulin', 'Glucose',
          grid_ls=(0, (4, 3)), grid_lw=1.8)
ax3.legend(handles=[Patch(color=BLUE, label='Diabetic'), Patch(color=ORANGE, label='Non-Diabetic')],
           title='Diabetic', loc='upper left', bbox_to_anchor=(1185 / W, 1 - 2704 / H),
           bbox_transform=fig.transFigure, frameon=False, fontsize=8, title_fontsize=8,
           handlelength=0.6, handleheight=1.5, handletextpad=0.4, labelspacing=0.3,
           alignment='left', labelcolor='#555555')

# BMI vs insulin
ib = np.array(insulin_bmi, dtype=float)
panel(13, 2852, 778, 3163, 2900, REL_BAND, 'Relationship Between BMI and Insulin', 18.5, lw=2.6)
ax4 = px_axes(68, 2903, 778, 3104)
ax4.scatter(ib[:, 0], ib[:, 1], s=54, color=BLUE, edgecolor='none', zorder=3)
k4, c4 = np.polyfit(ib[:, 0], ib[:, 1], 1)
xs = np.linspace(-33, 894, 50)
ax4.plot(xs, k4 * xs + c4, color=TREND, lw=2.6, ls=(0, (2.2, 1.1)), zorder=4)
ax4.axvline(0, color='#bbbbbb', lw=0.8, ls=':')
tab_style(ax4, (-33, 894), (14.7, 70.9), np.arange(0, 801, 100), [20, 40, 60], 'Insulin', 'BMI')

# skin thickness vs BMI
bs = np.array(bmi_skin, dtype=float)
panel(790, 2852, 1556, 3163, 2900, REL_BAND, 'Relationship Between Skin Thickness and BMI', 18.5, lw=2.6)
ax5 = px_axes(853, 2903, 1556, 3104)
ax5.scatter(bs[:, 0], bs[:, 1], s=54, color=BLUE, edgecolor='none', zorder=3)
k5, c5 = np.polyfit(bs[:, 0], bs[:, 1], 1)
xs = np.linspace(15.6, 70, 50)
ax5.plot(xs, k5 * xs + c5, color=TREND, lw=2.6, ls=(0, (2.2, 1.1)), zorder=4)
tab_style(ax5, (15.6, 70), (0, 106), np.arange(20, 66, 5), [50, 100], 'BMI', 'Skin Thickness')

# ---------------- packed bubbles ----------------
MED_BAND = '#e0e6e8'
teal_cmap = LinearSegmentedColormap.from_list(
    'blueteal', ['#c1e6dc', '#a3d6d3', '#5fb0c3', '#3f97b6', '#2c5a86'])
step_cmap = ListedColormap(['#bde4da', '#47a0ba', '#2d5a86'])


def tangent_points(p1, d1, p2, d2):
    v = p2 - p1
    L = np.hypot(*v)
    if L == 0 or L > d1 + d2 or L < abs(d1 - d2):
        return []
    a = (d1 ** 2 - d2 ** 2 + L ** 2) / (2 * L)
    h = np.sqrt(max(d1 ** 2 - a ** 2, 0))
    m = p1 + a * v / L
    n = np.array([-v[1], v[0]]) / L
    return [m + h * n, m - h * n]


def pack_circles(radii, yweight=1.2):
    radii = np.asarray(radii, dtype=float)
    pos = np.zeros((len(radii), 2))
    done = []
    for i in np.argsort(-radii, kind='stable'):
        r = radii[i]
        if len(done) == 1:
            j = done[0]
            pos[i] = (-(radii[j] + r), 0)
        elif len(done) > 1:
            best = None
            for a in range(len(done)):
                for b in range(a + 1, len(done)):
                    ia, ib = done[a], done[b]
                    for c in tangent_points(pos[ia], radii[ia] + r, pos[ib], radii[ib] + r):
                        if all(np.hypot(*(c - pos[j])) >= radii[j] + r - 1e-6 for j in done):
                            d = np.hypot(c[0], yweight * c[1])
                            if best is None or d < best[0]:
                                best = (d, c)
            pos[i] = best[1]
        done.append(i)
    return pos


def bubble_panel(rect, center, scale, colors, light_text, min_label_r, outcome_r, yweight):
    ax = px_axes(*rect)
    ax.set_xlim(rect[0], rect[2])
    ax.set_ylim(rect[3], rect[1])
    ax.axis('off')
    radii = scale * np.sqrt(np.asarray(bubble_count, dtype=float))
    pos = pack_circles(radii, yweight)
    lo = (pos - radii[:, None]).min(axis=0)
    hi = (pos + radii[:, None]).max(axis=0)
    pos = pos - (lo + hi) / 2 + np.array(center)
    for k, (p, r) in enumerate(zip(pos, radii)):
        ax.add_patch(Circle(p, r, fc=colors[k], ec='white', lw=0.6))
        if r > min_label_r:
            lab = f'Age - {bubble_age[k]}'
            if r > outcome_r:
                lab += f'\n{bubble_outcome[k]}'
            ax.text(p[0], p[1], lab, ha='center', va='center', fontsize=8,
                    color='#f2f2f2' if light_text[k] else TXT, linespacing=1.9)
    return ax


def note_box(x0, y0, x1, y1, text, tx, ty, line):
    bg.add_patch(Rectangle((x0, y0), x1 - x0, y1 - y0, fc='#f7f7f7', ec='none'))
    bg.text(tx, ty, text, ha='right', va='top', fontsize=8.5, color=TXT, linespacing=1.65)
    bg.plot(line[0], line[1], color='#cfcfcf', lw=1)


# median DPF
panel(13, 3173, 778, 3447, 3255, MED_BAND, 'Median DPF for each Age Groups with respect to\noutcome', 19,
      weight='normal', lw=2.6)
dpf_norm = Normalize(0.25, 0.75)
dpf_colors = [teal_cmap(dpf_norm(v)) for v in median_dpf]
bubble_panel((15, 3256, 776, 3445), (396, 3352), 3.27, dpf_colors,
             [dpf_norm(v) > 0.6 for v in median_dpf], 27.5, 40, 1.1)
note_box(15, 3258, 195, 3408, dpf_note, 186, 3268, ([195, 297], [3333, 3298]))
ins_norm = BoundaryNorm(np.linspace(min(median_insulin), max(median_insulin), 4), 3)
bg.text(501, 3372, 'Median Insulin', ha='left', va='center', fontsize=8, color='#444444')
lcax = px_axes(535, 3382, 618, 3401)
cb = fig.colorbar(ScalarMappable(norm=ins_norm, cmap=step_cmap), cax=lcax, orientation='horizontal')
cb.set_ticks([])
cb.outline.set_edgecolor('#a9a9a9')
bg.text(531, 3392, f'{min(median_insulin):.1f}', ha='right', va='center', fontsize=8, color='#666666')
bg.text(622, 3392, f'{max(median_insulin):.1f}', ha='left', va='center', fontsize=8, color='#666666')

# median insulin
panel(790, 3173, 1556, 3447, 3255, MED_BAND, 'Median Insulin for each Age Groups wit respect to\noutcome', 19,
      weight='normal', lw=2.6)
ins_colors = [step_cmap(ins_norm(v)) for v in median_insulin]
bubble_panel((792, 3256, 1554, 3445), (1172, 3352), 3.27, ins_colors,
             [False] * len(median_insulin), 27.5, 40, 1.1)
note_box(793, 3258, 972, 3390, ins_note, 962, 3268, ([972, 1073], [3323, 3298]))

# median glucose
panel(13, 3457, 1556, 3787, 3505, MED_BAND, 'Median Blood Glucose for each Age Groups with respect to outcome',
      19, weight='normal', lw=2.8)
glu_norm = Normalize(min(median_glucose), max(median_glucose))
glu_colors = [teal_cmap(glu_norm(v)) for v in median_glucose]
bubble_panel((15, 3506, 1554, 3785), (785, 3647), 4.8, glu_colors,
             [glu_norm(v) > 0.6 for v in median_glucose], 27.5, 40, 1.25)
note_box(288, 3508, 468, 3640, glu_note, 458, 3518, ([468, 583], [3574, 3569]))
bg.text(1189, 3527, 'Median Glucose', ha='left', va='center', fontsize=8, color='#444444')
gcax = px_axes(1193, 3537, 1343, 3552)
cb = fig.colorbar(ScalarMappable(norm=glu_norm, cmap=teal_cmap), cax=gcax, orientation='horizontal')
cb.set_ticks([])
cb.outline.set_edgecolor('#a9a9a9')
bg.text(1193, 3564, f'{min(median_glucose):.2f}', ha='left', va='center', fontsize=8, color='#666666')
bg.text(1343, 3564, f'{max(median_glucose):.2f}', ha='right', va='center', fontsize=8, color='#666666')

fig.savefig('out.png', dpi=100)
